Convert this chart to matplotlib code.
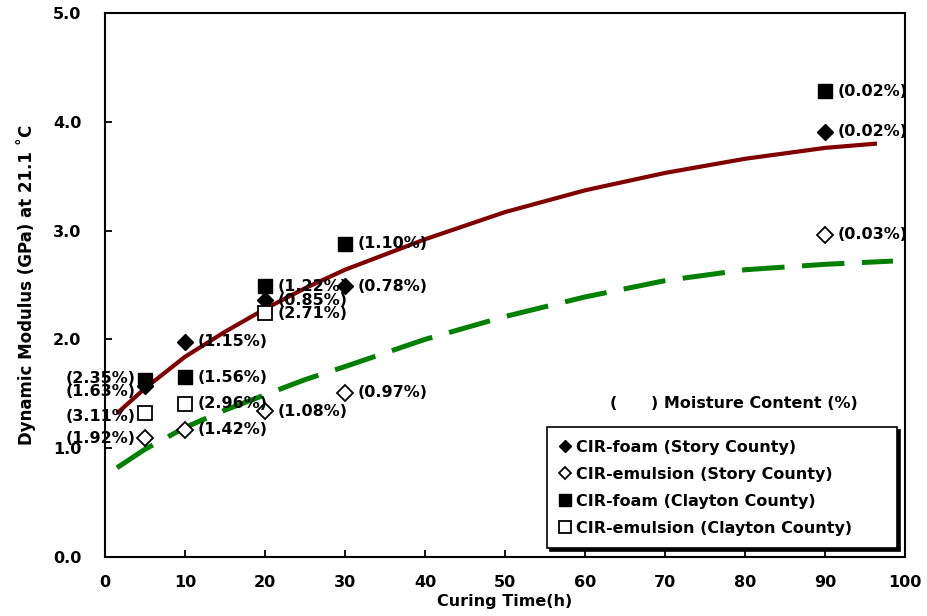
import matplotlib
matplotlib.use("Agg")
import matplotlib.pyplot as plt

plt.rcParams['font.family'] = ['DejaVu Sans']
plt.rcParams['font.weight'] = 'bold'

# measured dynamic modulus (GPa) vs curing time (h)
story_foam_t = [5, 10, 20, 30, 90]
story_foam_e = [1.57, 1.98, 2.36, 2.49, 3.91]
story_foam_mc = ['1.63', '1.15', '0.85', '0.78', '0.02']

story_emul_t = [5, 10, 20, 30, 90]
story_emul_e = [1.09, 1.17, 1.34, 1.51, 2.96]
story_emul_mc = ['1.92', '1.42', '1.08', '0.97', '0.03']

clay_foam_t = [5, 10, 20, 30, 90]
clay_foam_e = [1.63, 1.65, 2.49, 2.88, 4.28]
clay_foam_mc = ['2.35', '1.56', '1.22', '1.10', '0.02']

clay_emul_t = [5, 10, 20]
clay_emul_e = [1.32, 1.41, 2.24]
clay_emul_mc = ['3.11', '2.96', '2.71']

# trend curves
foam_trend_t = [1.5, 5, 10, 15, 20, 25, 30, 40, 50, 60, 70, 80, 90, 96.5]
foam_trend_e = [1.32, 1.55, 1.84, 2.07, 2.28, 2.47, 2.64, 2.92, 3.17, 3.37, 3.53, 3.66, 3.76, 3.80]
emul_trend_t = [1.5, 5, 10, 15, 20, 25, 30, 40, 50, 60, 70, 80, 90, 98.5]
emul_trend_e = [0.82, 0.99, 1.19, 1.35, 1.49, 1.63, 1.75, 2.00, 2.21, 2.39, 2.54, 2.64, 2.69, 2.72]

fig = plt.figure(figsize=(9.28, 6.16), dpi=100)
ax = fig.add_axes([0.1131, 0.0958, 0.8621, 0.8831])

ax.plot(foam_trend_t, foam_trend_e, color='#800000', lw=3.0, solid_capstyle='butt', zorder=2)
ax.plot(emul_trend_t, emul_trend_e, color='#008000', lw=3.6, linestyle=(0, (8.5, 3.5)), zorder=2)

ax.plot(story_foam_t, story_foam_e, 'D', color='k', ms=8, ls='none', zorder=3,
        label='CIR-foam (Story County)')
ax.plot(story_emul_t, story_emul_e, 'D', mfc='white', mec='k', mew=1.3, ms=8, ls='none', zorder=3,
        label='CIR-emulsion (Story County)')
ax.plot(clay_foam_t, clay_foam_e, 's', color='k', ms=10, ls='none', zorder=3,
        label='CIR-foam (Clayton County)')
ax.plot(clay_emul_t, clay_emul_e, 's', mfc='white', mec='k', mew=1.3, ms=10, ls='none', zorder=3,
        label='CIR-emulsion (Clayton County)')

lab_font = dict(fontsize=11.5, fontweight='bold', va='center')


def label_points(ts, es, mcs, dy_first=0):
    for t, e, mc in zip(ts, es, mcs):
        txt = '(' + mc + '%)'
        if t == 5:
            ax.annotate(txt, (t, e), xytext=(-7, dy_first), textcoords='offset points',
                        ha='right', **lab_font)
        else:
            ax.annotate(txt, (t, e), xytext=(9, 0), textcoords='offset points',
                        ha='left', **lab_font)


label_points(clay_foam_t, clay_foam_e, clay_foam_mc, dy_first=1)
label_points(story_foam_t, story_foam_e, story_foam_mc, dy_first=-4)
label_points(clay_emul_t, clay_emul_e, clay_emul_mc, dy_first=-2)
label_points(story_emul_t, story_emul_e, story_emul_mc, dy_first=0)

ax.text(0.631, 0.282, '(      ) Moisture Content (%)', transform=ax.transAxes,
        fontsize=11.5, fontweight='bold', va='center', ha='left')

leg = ax.legend(loc='lower left', bbox_to_anchor=(0.5525, 0.016, 0.4375, 0.23),
                mode='expand', borderaxespad=0, fancybox=False, edgecolor='k', framealpha=1,
                shadow={'color': 'k', 'alpha': 1, 'ox': 2, 'oy': -2},
                handlelength=0.6, handletextpad=0.4, labelspacing=0.74,
                borderpad=0.8, markerscale=0.8, prop={'size': 11.5, 'weight': 'bold'})
leg.get_frame().set_linewidth(1.2)

ax.set_xlim(0, 100)
ax.set_ylim(0, 5)
ax.set_xticks(range(0, 101, 10))
ax.set_yticks([0, 1, 2, 3, 4, 5])
ax.set_yticklabels(['0.0', '1.0', '2.0', '3.0', '4.0', '5.0'])
ax.tick_params(direction='in', length=5, width=1.3, labelsize=11.5)
ax.tick_params(axis='y', pad=17)
ax.tick_params(axis='x', pad=13)
for s in ax.spines.values():
    s.set_linewidth(1.5)

ax.set_xlabel('Curing Time(h)', fontsize=11.5, fontweight='bold', labelpad=3)
ax.set_ylabel('Dynamic Modulus (GPa) at 21.1 ˚C', fontsize=12, fontweight='bold', labelpad=12)

fig.savefig('out.png', dpi=100)
